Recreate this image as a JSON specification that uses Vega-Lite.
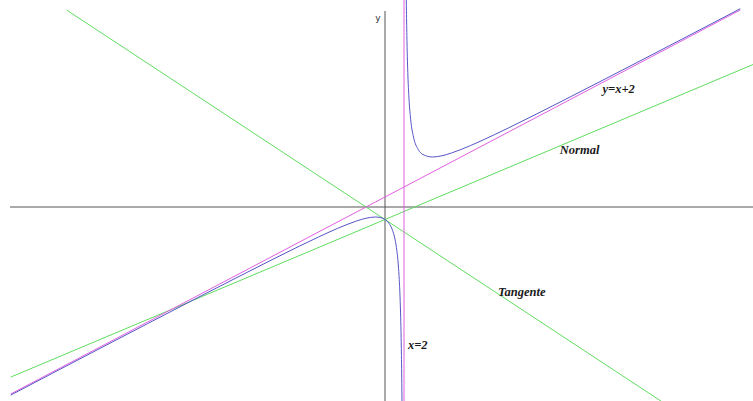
{
  "$schema": "https://vega.github.io/schema/vega-lite/v6.json",
  "width": 753,
  "height": 401,
  "autosize": {"type": "fit", "contains": "padding"},
  "padding": 0,
  "background": "white",
  "config": {"view": {"stroke": null}},
  "datasets": {
    "axes": [
      {"s": "h", "i": 0, "x": -39.47, "y": 0},
      {"s": "h", "i": 1, "x": 38.74, "y": 0},
      {"s": "v", "i": 0, "x": 0, "y": 39.2},
      {"s": "v", "i": 1, "x": 0, "y": -38.8}
    ],
    "green": [
      {"s": "tangente", "i": 0, "x": -33.5, "y": 39.375},
      {"s": "tangente", "i": 1, "x": 30, "y": -40},
      {"s": "normal", "i": 0, "x": -39.4, "y": -34.02},
      {"s": "normal", "i": 1, "x": 39, "y": 28.7}
    ],
    "magenta": [
      {"s": "oblique", "i": 0, "x": -39.4, "y": -37.4},
      {"s": "oblique", "i": 1, "x": 37.4, "y": 39.4},
      {"s": "vertical", "i": 0, "x": 2, "y": 41.4},
      {"s": "vertical", "i": 1, "x": 2, "y": -38.8}
    ],
    "curve": [
      {"s": "L", "i": 0, "x": -39.4, "y": -37.62},
      {"s": "L", "i": 1, "x": -35, "y": -33.243},
      {"s": "L", "i": 2, "x": -30, "y": -28.281},
      {"s": "L", "i": 3, "x": -25, "y": -23.333},
      {"s": "L", "i": 4, "x": -20, "y": -18.409},
      {"s": "L", "i": 5, "x": -16, "y": -14.5},
      {"s": "L", "i": 6, "x": -12, "y": -10.643},
      {"s": "L", "i": 7, "x": -9, "y": -7.818},
      {"s": "L", "i": 8, "x": -7, "y": -6},
      {"s": "L", "i": 9, "x": -5, "y": -4.286},
      {"s": "L", "i": 10, "x": -4, "y": -3.5},
      {"s": "L", "i": 11, "x": -3, "y": -2.8},
      {"s": "L", "i": 12, "x": -2, "y": -2.25},
      {"s": "L", "i": 13, "x": -1.5, "y": -2.071},
      {"s": "L", "i": 14, "x": -1, "y": -2},
      {"s": "L", "i": 15, "x": -0.5, "y": -2.1},
      {"s": "L", "i": 16, "x": 0, "y": -2.5},
      {"s": "L", "i": 17, "x": 0.4, "y": -3.225},
      {"s": "L", "i": 18, "x": 0.8, "y": -4.7},
      {"s": "L", "i": 19, "x": 1.0, "y": -6},
      {"s": "L", "i": 20, "x": 1.2, "y": -8.05},
      {"s": "L", "i": 21, "x": 1.4, "y": -11.6},
      {"s": "L", "i": 22, "x": 1.5, "y": -14.5},
      {"s": "L", "i": 23, "x": 1.6, "y": -18.9},
      {"s": "L", "i": 24, "x": 1.7, "y": -26.3},
      {"s": "L", "i": 25, "x": 1.75, "y": -32.25},
      {"s": "L", "i": 26, "x": 1.8, "y": -41.2},
      {"s": "R", "i": 0, "x": 2.2, "y": 49.2},
      {"s": "R", "i": 1, "x": 2.25, "y": 40.25},
      {"s": "R", "i": 2, "x": 2.3, "y": 34.3},
      {"s": "R", "i": 3, "x": 2.4, "y": 26.9},
      {"s": "R", "i": 4, "x": 2.5, "y": 22.5},
      {"s": "R", "i": 5, "x": 2.7, "y": 17.557},
      {"s": "R", "i": 6, "x": 3, "y": 14},
      {"s": "R", "i": 7, "x": 3.5, "y": 11.5},
      {"s": "R", "i": 8, "x": 4, "y": 10.5},
      {"s": "R", "i": 9, "x": 5, "y": 10},
      {"s": "R", "i": 10, "x": 6, "y": 10.25},
      {"s": "R", "i": 11, "x": 7, "y": 10.8},
      {"s": "R", "i": 12, "x": 8, "y": 11.5},
      {"s": "R", "i": 13, "x": 10, "y": 13.125},
      {"s": "R", "i": 14, "x": 13, "y": 15.818},
      {"s": "R", "i": 15, "x": 16, "y": 18.643},
      {"s": "R", "i": 16, "x": 20, "y": 22.5},
      {"s": "R", "i": 17, "x": 25, "y": 27.391},
      {"s": "R", "i": 18, "x": 30, "y": 32.321},
      {"s": "R", "i": 19, "x": 34, "y": 36.281},
      {"s": "R", "i": 20, "x": 37.4, "y": 39.654}
    ],
    "labels": [
      {"t": "y=x+2", "x": 22.9, "y": 23.6},
      {"t": "Normal", "x": 18.4, "y": 11.4},
      {"t": "Tangente", "x": 11.9, "y": -17},
      {"t": "x=2", "x": 2.42, "y": -27.6}
    ],
    "ylabel": [
      {"t": "y", "x": -0.74, "y": 37.8}
    ]
  },
  "encoding": {
    "x": {"field": "x", "type": "quantitative", "scale": {"domain": [-40.53, 38.74], "nice": false, "zero": false}, "axis": null},
    "y": {"field": "y", "type": "quantitative", "scale": {"domain": [-38.8, 41.4], "nice": false, "zero": false}, "axis": null}
  },
  "layer": [
    {
      "data": {"name": "axes"},
      "mark": {"type": "line", "color": "#555555", "strokeWidth": 1, "clip": true},
      "encoding": {"detail": {"field": "s"}, "order": {"field": "i"}}
    },
    {
      "data": {"name": "green"},
      "mark": {"type": "line", "color": "#5fdc5f", "strokeWidth": 1, "clip": true},
      "encoding": {"detail": {"field": "s"}, "order": {"field": "i"}}
    },
    {
      "data": {"name": "magenta"},
      "mark": {"type": "line", "color": "#e060e0", "strokeWidth": 1, "clip": true},
      "encoding": {"detail": {"field": "s"}, "order": {"field": "i"}}
    },
    {
      "data": {"name": "curve"},
      "mark": {"type": "line", "color": "#5555c8", "strokeWidth": 1, "clip": true, "interpolate": "monotone"},
      "encoding": {"detail": {"field": "s"}, "order": {"field": "i"}}
    },
    {
      "data": {"name": "labels"},
      "mark": {"type": "text", "align": "left", "baseline": "middle", "font": "Liberation Serif", "fontStyle": "italic", "fontWeight": "bold", "fontSize": 12.5, "color": "#1a1a1a"},
      "encoding": {"text": {"field": "t"}}
    },
    {
      "data": {"name": "ylabel"},
      "mark": {"type": "text", "align": "center", "baseline": "middle", "font": "DejaVu Sans", "fontSize": 9, "color": "#333333"},
      "encoding": {"text": {"field": "t"}}
    }
  ]
}
